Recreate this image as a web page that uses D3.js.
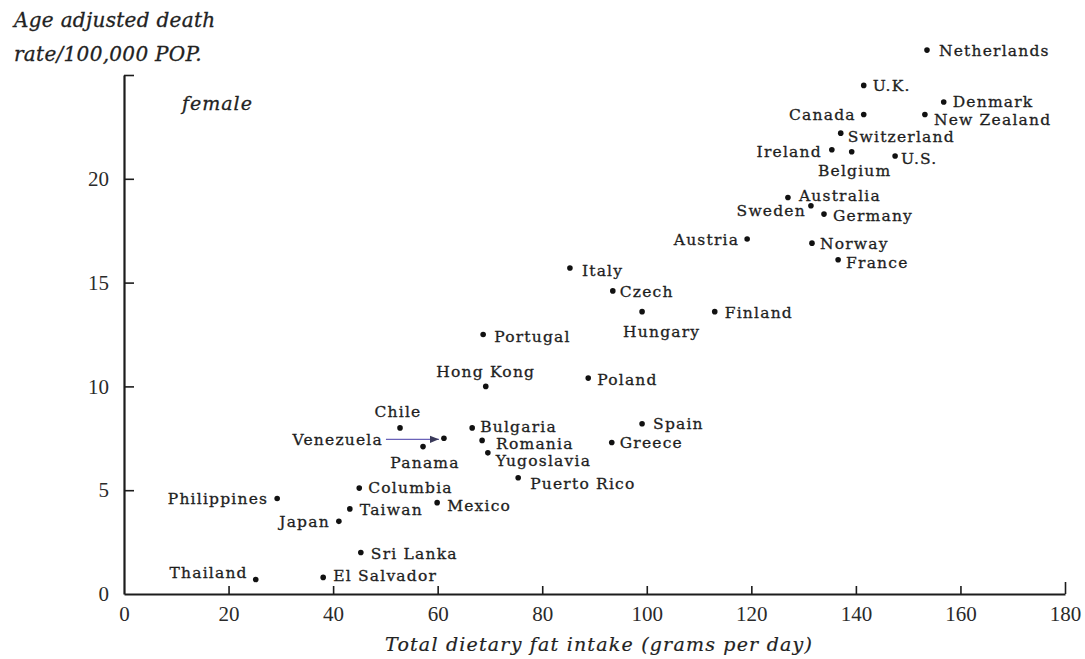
<!DOCTYPE html>
<html>
<head>
<meta charset="utf-8">
<script src="https://cdn.jsdelivr.net/npm/d3@7"></script>
<style>
  html, body { margin: 0; padding: 0; background: #fff; }
  svg { display: block; }
</style>
</head>
<body>
<svg id="chart" width="1085" height="659"></svg>
<script>
// ---- data ----
const countries = ["Netherlands","U.K.","Denmark","Canada","New Zealand","Switzerland","Ireland","Belgium","U.S.",
  "Australia","Sweden","Germany","Austria","Norway","France","Italy","Czech","Hungary","Finland","Portugal",
  "Hong Kong","Poland","Spain","Greece","Bulgaria","Romania","Yugoslavia","Puerto Rico","Chile","Venezuela",
  "Panama","Columbia","Taiwan","Mexico","Philippines","Japan","Sri Lanka","Thailand","El Salvador"];
const fatIntake = [153.6,141.5,156.8,141.5,153.2,137.1,135.4,139.2,147.5,
  127.0,131.4,133.9,119.2,131.6,136.6,85.3,93.5,99.1,113.0,68.7,
  69.2,88.8,99.1,93.3,66.6,68.5,69.6,75.4,52.8,61.2,
  57.2,45.0,43.2,59.9,29.3,41.1,45.3,25.2,38.1];
const deathRate = [26.2,24.5,23.7,23.1,23.1,22.2,21.4,21.3,21.1,
  19.1,18.7,18.3,17.1,16.9,16.1,15.7,14.6,13.6,13.6,12.5,
  10.0,10.4,8.2,7.3,8.0,7.4,6.8,5.6,8.0,7.5,
  7.1,5.1,4.1,4.4,4.6,3.5,2.0,0.7,0.8];
const xTicks = [0,20,40,60,80,100,120,140,160,180];
const yTicks = [0,5,10,15,20,25];
const yTickLabels = ["0","5","10","15","20",""];
const titleLines = ["Age adjusted death", "rate/100,000 POP."];
const panelLabel = "female";
const xTitle = "Total dietary fat intake (grams per day)";

// label placement (style): [anchor, dx, dy] in pixels relative to the dot
const labelPlace = {
  "Netherlands":["start",12,6], "U.K.":["start",9,6], "Denmark":["start",9,5], "Canada":["end",-8,6],
  "New Zealand":["start",9,11], "Switzerland":["start",7,9], "Ireland":["end",-10,7], "Belgium":["middle",3,24],
  "U.S.":["start",6,8], "Australia":["start",11,4], "Sweden":["end",-5,10], "Germany":["start",9,7],
  "Austria":["end",-8,6], "Norway":["start",8,6], "France":["start",8,8], "Italy":["start",12,8],
  "Czech":["start",7,6], "Hungary":["start",-19,25], "Finland":["start",10,6], "Portugal":["start",11,7],
  "Hong Kong":["middle",0,-9], "Poland":["start",9,7], "Spain":["start",11,5], "Greece":["start",8,6],
  "Bulgaria":["start",8,4], "Romania":["start",14,9], "Yugoslavia":["start",8,13], "Puerto Rico":["start",12,11],
  "Chile":["middle",-2,-11], "Venezuela":["end",-61,7], "Panama":["middle",2,21], "Columbia":["start",9,5],
  "Taiwan":["start",10,6], "Mexico":["start",10,8], "Philippines":["end",-9,5], "Japan":["end",-9,6],
  "Sri Lanka":["start",10,7], "Thailand":["end",-8,-1], "El Salvador":["start",10,4]
};

const svg = d3.select("#chart");
const x = d3.scaleLinear().domain([0,180]).range([124,1065]);
const y = d3.scaleLinear().domain([0,25]).range([594,75]);
const ink = "#1c1c1c";

// axes
const xAxis = d3.axisBottom(x).tickValues(xTicks).tickSizeInner(-8).tickSizeOuter(0).tickPadding(12)
  .tickFormat(d3.format("d"));
const gx = svg.append("g").attr("transform", `translate(0,${y(0)})`).call(xAxis);
gx.select(".domain").attr("stroke", ink).attr("stroke-width", 2.2);
gx.selectAll(".tick line").attr("stroke", ink).attr("stroke-width", 1.6);
gx.selectAll(".tick").filter(d => d === 0).select("line").remove();
gx.selectAll(".tick").filter(d => d === 180).select("line").attr("y2", -12);
gx.selectAll(".tick text").attr("font-family", "'Liberation Serif', serif").attr("font-size", 21)
  .attr("fill", "#2a2a2a").attr("dy", "0.7em");

const yAxis = d3.axisLeft(y).tickValues(yTicks).tickSizeInner(-10).tickSizeOuter(0).tickPadding(15)
  .tickFormat((d,i) => yTickLabels[i]);
const gy = svg.append("g").attr("transform", `translate(${x(0)},0)`).call(yAxis);
gy.select(".domain").attr("stroke", ink).attr("stroke-width", 2.2);
gy.selectAll(".tick line").attr("stroke", ink).attr("stroke-width", 1.6);
gy.selectAll(".tick").filter(d => d === 0).select("line").remove();
gy.selectAll(".tick text").attr("font-family", "'Liberation Serif', serif").attr("font-size", 21)
  .attr("fill", "#2a2a2a");

// titles
const italicFont = "'DejaVu Serif', serif";
const title = svg.append("text").attr("font-family", italicFont).attr("font-style", "italic")
  .attr("font-size", 20).attr("letter-spacing", 0.3).attr("fill", "#222")
  .attr("stroke", "#222").attr("stroke-width", 0.3);
titleLines.forEach((t,i) => title.append("tspan").attr("x", 14).attr("y", 27 + i*34).text(t));

svg.append("text").attr("x", 182).attr("y", 110).attr("font-family", italicFont)
  .attr("font-style", "italic").attr("font-size", 19).attr("letter-spacing", 1).attr("fill", "#222")
  .attr("stroke", "#222").attr("stroke-width", 0.3).text(panelLabel);

svg.append("text").attr("x", 385).attr("y", 651).attr("font-family", italicFont)
  .attr("font-style", "italic").attr("font-size", 19).attr("letter-spacing", 1.2).attr("fill", "#222")
  .attr("stroke", "#222").attr("stroke-width", 0.2).text(xTitle);

// data
const data = countries.map((c,i) => ({name:c, fx:fatIntake[i], dr:deathRate[i]}));

// Venezuela arrow
const defs = svg.append("defs");
defs.append("marker").attr("id","arr").attr("viewBox","0 0 10 10").attr("refX",10).attr("refY",5)
  .attr("markerWidth",7).attr("markerHeight",7).attr("orient","auto")
  .append("path").attr("d","M0,1 L10,5 L0,9 Z").attr("fill","#3a3a5a");
const ven = data.find(d => d.name === "Venezuela");
svg.append("line").attr("x1", x(ven.fx) - 58).attr("y1", y(ven.dr) + 1)
  .attr("x2", x(ven.fx) - 5).attr("y2", y(ven.dr) + 1)
  .attr("stroke", "#6a62b8").attr("stroke-width", 1.3).attr("marker-end", "url(#arr)");

svg.append("g").selectAll("circle").data(data).join("circle")
  .attr("cx", d => x(d.fx)).attr("cy", d => y(d.dr)).attr("r", 2.8).attr("fill", "#111");

svg.append("g").selectAll("text").data(data).join("text")
  .attr("x", d => x(d.fx) + labelPlace[d.name][1])
  .attr("y", d => y(d.dr) + labelPlace[d.name][2])
  .attr("text-anchor", d => labelPlace[d.name][0])
  .attr("font-family", "'DejaVu Serif', serif").attr("font-size", 15.5).attr("letter-spacing", 1.2)
  .attr("fill", "#1e1e1e").attr("stroke", "#1e1e1e").attr("stroke-width", 0.3)
  .text(d => d.name);
</script>
</body>
</html>
